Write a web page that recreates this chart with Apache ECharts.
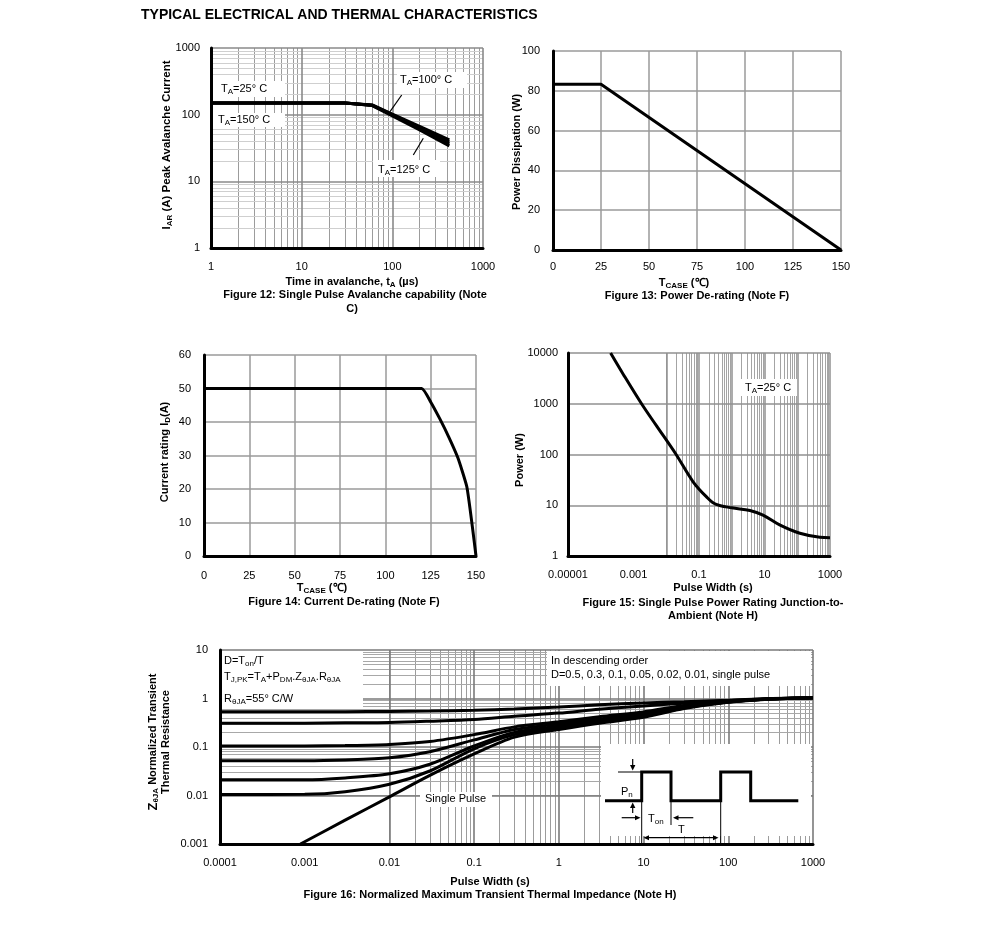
<!DOCTYPE html>
<html><head><meta charset="utf-8">
<script src="https://cdn.jsdelivr.net/npm/echarts@6/dist/echarts.min.js"></script>
<style>html,body{margin:0;padding:0;background:#fff}#c{width:991px;height:935px}</style>
</head><body><div id="c"></div>
<script>
// ---------------- DATA ----------------
// Figure 12: Single pulse avalanche capability
const f12Time = [1, 30, 60, 100, 200, 425];
const f12Ta25 = [150, 150, 140, 102, 67, 42];
const f12Ta100 = [150, 150, 139, 100, 64, 39];
const f12Ta125 = [150, 150, 138, 98, 62, 36.5];
const f12Ta150 = [150, 150, 137, 96, 59, 34];
const f12XTicks = ['1', '10', '100', '1000'];
const f12YTicks = ['1', '10', '100', '1000'];

// Figure 13: Power de-rating
const f13Tcase = [0, 25, 150];
const f13Power = [83.3, 83.3, 0];
const f13XTicks = ['0', '25', '50', '75', '100', '125', '150'];
const f13YTicks = ['0', '20', '40', '60', '80', '100'];

// Figure 14: Current de-rating
const f14Tcase = [0, 120, 125, 130, 135, 140, 145, 150];
const f14Current = [50, 50, 46, 41, 35.5, 29.3, 20.5, 0];
const f14XTicks = ['0', '25', '50', '75', '100', '125', '150'];
const f14YTicks = ['0', '10', '20', '30', '40', '50', '60'];

// Figure 15: Single pulse power rating
const f15Width = [0.0002, 0.0005, 0.00176, 0.005, 0.02, 0.066, 0.17, 0.32, 1, 3.6, 9, 29, 120, 490, 1000];
const f15Power = [10000, 3700, 1000, 370, 100, 29, 14.6, 10.5, 8.9, 7.9, 6.4, 4.1, 2.8, 2.34, 2.3];
const f15XTicks = ['0.00001', '0.001', '0.1', '10', '1000'];
const f15YTicks = ['1', '10', '100', '1000', '10000'];

// Figure 16: Normalized transient thermal impedance
const f16Width = [0.0001, 0.001, 0.003, 0.01, 0.03, 0.1, 0.3, 1, 3, 10, 30, 100, 300, 1000];
const f16D05 = [0.53, 0.53, 0.535, 0.54, 0.55, 0.57, 0.61, 0.67, 0.74, 0.81, 0.86, 0.92, 1.0, 1.04];
const f16D03 = [0.31, 0.31, 0.315, 0.32, 0.34, 0.37, 0.43, 0.5, 0.6, 0.7, 0.8, 0.9, 0.99, 1.04];
const f16D01 = [0.105, 0.105, 0.107, 0.113, 0.13, 0.18, 0.26, 0.33, 0.42, 0.53, 0.72, 0.87, 0.98, 1.04];
const f16D005 = [0.052, 0.052, 0.054, 0.06, 0.08, 0.14, 0.23, 0.3, 0.38, 0.49, 0.69, 0.86, 0.98, 1.04];
const f16D002 = [0.021, 0.021, 0.023, 0.028, 0.044, 0.105, 0.2, 0.27, 0.35, 0.45, 0.66, 0.85, 0.98, 1.04];
const f16D001 = [0.0105, 0.0106, 0.012, 0.017, 0.032, 0.092, 0.18, 0.25, 0.33, 0.43, 0.64, 0.85, 0.98, 1.04];
const f16SingleWidth = [0.00089, 0.003, 0.01, 0.03, 0.1, 0.3, 1, 3, 10, 30, 100, 300, 1000];
const f16Single = [0.001, 0.0031, 0.0094, 0.026, 0.072, 0.16, 0.23, 0.31, 0.41, 0.62, 0.84, 0.97, 1.04];
const f16XTicks = ['0.0001', '0.001', '0.01', '0.1', '1', '10', '100', '1000'];
const f16YTicks = ['0.001', '0.01', '0.1', '1', '10'];

// ---------------- HELPERS ----------------
const FF = '"Liberation Sans", Arial, Helvetica, sans-serif';
function logFmt(ticks) {
  return function (v) {
    for (const t of ticks) { const n = Number(t); if (Math.abs(v - n) <= n * 1e-6) return t; }
    return '';
  };
}
function linFmt(ticks) {
  return function (v) { const s = String(Math.round(v * 1000) / 1000); return ticks.indexOf(s) >= 0 ? s : ''; };
}
function lbl(fmt, margin) {
  return { formatter: fmt, color: '#000', fontSize: 11, fontFamily: FF, margin: margin };
}
function logAxis(gi, min, max, ticks, margin) {
  return {
    gridIndex: gi, type: 'log', logBase: 10, min: min, max: max, z: 20,
    axisLine: { show: true, onZero: false, lineStyle: { color: '#000', width: 3 } },
    axisTick: { show: false }, splitLine: { show: false }, minorSplitLine: { show: false },
    axisLabel: lbl(logFmt(ticks), margin)
  };
}
function linAxis(gi, min, max, interval, ticks, margin) {
  return {
    gridIndex: gi, type: 'value', min: min, max: max, interval: interval,
    axisLine: { show: true, onZero: false, lineStyle: { color: '#000', width: 3 } },
    axisTick: { show: false },
    splitLine: { show: true, showMinLine: false, lineStyle: { color: '#9a9a9a', width: 1.5 } },
    axisLabel: lbl(linFmt(ticks), margin)
  };
}
function decadeLines(a, b, withMinor) {
  const majors = [], minors = [];
  for (let k = a; k <= b; k++) {
    majors.push(Number(Math.pow(10, k).toPrecision(6)));
    if (withMinor && k < b) for (let m = 2; m <= 9; m++) minors.push(Number((m * Math.pow(10, k)).toPrecision(6)));
  }
  return { majors: majors, minors: minors };
}
function ls(c, w) { return { color: c, width: w, type: 'solid' }; }
function gridSeries(xi, yi, anchor, vert, horiz, st) {
  const data = [];
  vert.minors.forEach(v => data.push({ xAxis: v, lineStyle: st.vMinor }));
  horiz.minors.forEach(v => data.push({ yAxis: v, lineStyle: st.hMinor }));
  vert.majors.forEach(v => data.push({ xAxis: v, lineStyle: st.vMajor }));
  horiz.majors.forEach(v => data.push({ yAxis: v, lineStyle: st.hMajor }));
  return {
    type: 'line', xAxisIndex: xi, yAxisIndex: yi, z: 1, silent: true, symbol: 'none',
    data: [anchor], lineStyle: { opacity: 0 },
    markLine: { z: 1, silent: true, symbol: ['none', 'none'], label: { show: false },
      lineStyle: { type: 'solid' }, emphasis: { disabled: true }, animation: false, data: data }
  };
}
function curve(xi, yi, xs, ys, smooth) {
  return {
    type: 'line', xAxisIndex: xi, yAxisIndex: yi, z: 10, silent: true,
    symbol: 'none', showSymbol: false, smooth: smooth || false,
    lineStyle: { color: '#000', width: 3 },
    data: xs.map((x, i) => [x, ys[i]])
  };
}
const SUB = { fontSize: 8, fontFamily: FF, verticalAlign: 'bottom', lineHeight: 8 };
function txt(x, y, text, o) {
  o = o || {};
  const size = o.size || 11, weight = o.bold ? 'bold' : 'normal';
  return {
    type: 'text', x: x, y: y, z: 40, rotation: o.rot || 0, silent: true,
    style: {
      text: text, fill: '#000', fontSize: size, fontWeight: weight, fontFamily: FF,
      align: o.align || 'center', verticalAlign: 'middle', lineHeight: size + 3,
      rich: {
        s: Object.assign({}, SUB, { fontWeight: weight, fontSize: o.sub || 8 }),
        z: { fontSize: 13, fontWeight: 'bold', fontFamily: FF, lineHeight: size + 3 }
      }
    }
  };
}
function box(x, y, w, h) {
  return { type: 'rect', z: 5, silent: true, shape: { x: x, y: y, width: w, height: h }, style: { fill: '#fff' } };
}
function seg(pts, w) {
  return { type: 'polyline', z: 12, silent: true, shape: { points: pts }, style: { stroke: '#000', lineWidth: w, fill: null } };
}
function tri(pts) {
  return { type: 'polygon', z: 12, silent: true, shape: { points: pts }, style: { fill: '#000' } };
}

// ---------------- OPTION ----------------
const g12 = gridSeries(0, 0, [1, 1],
  decadeLines(0, 3, true), decadeLines(0, 3, true),
  { vMinor: ls('#9c9c9c', 1), hMinor: ls('#cfcfcf', 1), vMajor: ls('#8a8a8a', 1.6), hMajor: ls('#8a8a8a', 1.6) });
const g15 = gridSeries(3, 3, [0.00001, 1],
  decadeLines(-5, 3, true), decadeLines(0, 4, false),
  { vMinor: ls('#a4a4a4', 1), hMinor: ls('#a4a4a4', 1), vMajor: ls('#909090', 1.5), hMajor: ls('#909090', 1.5) });
const g16 = gridSeries(4, 4, [0.0001, 0.001],
  decadeLines(-4, 3, true), decadeLines(-3, 1, true),
  { vMinor: ls('#9c9c9c', 1), hMinor: ls('#a8a8a8', 1), vMajor: ls('#7a7a7a', 1.6), hMajor: ls('#7a7a7a', 1.6) });

const graphics = [
  txt(141, 15, 'TYPICAL ELECTRICAL AND THERMAL CHARACTERISTICS', { align: 'left', bold: true, size: 14 }),
  // Fig 12
  box(212, 81, 73, 16), box(212, 113, 73, 14), box(397, 72, 70, 16), box(373, 160, 67, 17),
  txt(221, 89, 'T{s|A}=25° C', { align: 'left' }),
  txt(218, 120, 'T{s|A}=150° C', { align: 'left' }),
  txt(400, 80, 'T{s|A}=100° C', { align: 'left' }),
  txt(378, 170, 'T{s|A}=125° C', { align: 'left' }),
  seg([[401.7, 95], [390, 111.7]], 1.2), seg([[423.3, 138.3], [413.3, 155]], 1.2),
  txt(167, 145, 'I{s|AR} (A) Peak Avalanche Current', { bold: true, rot: Math.PI / 2, size: 11.5 }),
  txt(352, 282, 'Time in avalanche, t{s|A} (µs)', { bold: true }),
  txt(355, 295, 'Figure 12: Single Pulse Avalanche capability (Note', { bold: true }),
  txt(352, 309, 'C)', { bold: true }),
  // Fig 13
  txt(517, 152, 'Power Dissipation (W)', { bold: true, rot: Math.PI / 2 }),
  txt(684, 283, 'T{s|CASE} (℃)', { bold: true }),
  txt(697, 296, 'Figure 13: Power De-rating (Note F)', { bold: true }),
  // Fig 14
  txt(165, 452, 'Current rating I{s|D}(A)', { bold: true, rot: Math.PI / 2 }),
  txt(322, 588, 'T{s|CASE} (℃)', { bold: true }),
  txt(344, 602, 'Figure 14: Current De-rating (Note F)', { bold: true }),
  // Fig 15
  box(741, 379, 56, 17),
  txt(745, 388, 'T{s|A}=25° C', { align: 'left' }),
  txt(520, 460, 'Power (W)', { bold: true, rot: Math.PI / 2 }),
  txt(713, 588, 'Pulse Width (s)', { bold: true }),
  txt(713, 603, 'Figure 15: Single Pulse Power Rating Junction-to-', { bold: true }),
  txt(713, 616, 'Ambient (Note H)', { bold: true }),
  // Fig 16
  box(221, 651, 142, 58), box(547, 651, 264, 35), box(601, 744, 210, 92), box(420, 792, 72, 15),
  txt(224, 661, 'D=T{s|on}/T', { align: 'left' }),
  txt(224, 677, 'T{s|J,PK}=T{s|A}+P{s|DM}.Z{s|θJA}.R{s|θJA}', { align: 'left' }),
  txt(224, 699, 'R{s|θJA}=55° C/W', { align: 'left' }),
  txt(551, 661, 'In descending order', { align: 'left' }),
  txt(551, 675, 'D=0.5, 0.3, 0.1, 0.05, 0.02, 0.01, single pulse', { align: 'left' }),
  txt(425, 799, 'Single Pulse', { align: 'left' }),
  txt(153, 742, '{z|Z}{s|θJA} Normalized Transient', { bold: true, rot: Math.PI / 2, size: 11 }),
  txt(166, 742, 'Thermal Resistance', { bold: true, rot: Math.PI / 2 }),
  txt(490, 882, 'Pulse Width (s)', { bold: true }),
  txt(490, 895, 'Figure 16: Normalized Maximum Transient Thermal Impedance (Note H)', { bold: true }),
  // inset pulse diagram
  seg([[605, 800.7], [641.7, 800.7], [641.7, 772], [671, 772], [671, 800.7], [720.7, 800.7], [720.7, 772], [750.7, 772], [750.7, 800.7], [798.3, 800.7]], 3),
  seg([[618, 772], [641, 772]], 1),
  seg([[632.7, 759], [632.7, 766]], 1.2), tri([[630, 765], [635.4, 765], [632.7, 770.5]]),
  seg([[632.7, 813], [632.7, 807]], 1.2), tri([[630, 808], [635.4, 808], [632.7, 802.5]]),
  seg([[641.7, 801], [641.7, 845]], 1), seg([[671, 801], [671, 825]], 1), seg([[720.7, 801], [720.7, 845]], 1),
  seg([[621.7, 817.7], [636, 817.7]], 1.2), tri([[635, 815.2], [635, 820.2], [640.5, 817.7]]),
  seg([[693.3, 817.7], [678, 817.7]], 1.2), tri([[678.5, 815.2], [678.5, 820.2], [673, 817.7]]),
  seg([[648, 837.7], [714, 837.7]], 1.2),
  tri([[649, 835.2], [649, 840.2], [643.5, 837.7]]), tri([[713, 835.2], [713, 840.2], [718.5, 837.7]]),
  txt(621, 792, 'P{s|n}', { align: 'left' }),
  txt(648, 819, 'T{s|on}', { align: 'left' }),
  txt(678, 830, 'T', { align: 'left' })
];

const option = {
  animation: false,
  backgroundColor: '#fff',
  grid: [
    { left: 211, top: 48, width: 272, height: 200 },
    { left: 553, top: 51, width: 288, height: 199 },
    { left: 204, top: 355, width: 272, height: 201 },
    { left: 568, top: 353, width: 262, height: 203 },
    { left: 220, top: 650, width: 593, height: 194 }
  ],
  xAxis: [
    logAxis(0, 1, 1000, f12XTicks, 13),
    linAxis(1, 0, 150, 25, f13XTicks, 11),
    linAxis(2, 0, 150, 25, f14XTicks, 14),
    logAxis(3, 0.00001, 1000, f15XTicks, 13),
    logAxis(4, 0.0001, 1000, f16XTicks, 13)
  ],
  yAxis: [
    logAxis(0, 1, 1000, f12YTicks, 11),
    linAxis(1, 0, 100, 20, f13YTicks, 13),
    linAxis(2, 0, 60, 10, f14YTicks, 13),
    logAxis(3, 1, 10000, f15YTicks, 10),
    logAxis(4, 0.001, 10, f16YTicks, 12)
  ],
  graphic: { elements: graphics },
  series: [
    g12, g15, g16,
    curve(0, 0, f12Time, f12Ta150), curve(0, 0, f12Time, f12Ta125),
    curve(0, 0, f12Time, f12Ta100), curve(0, 0, f12Time, f12Ta25),
    curve(1, 1, f13Tcase, f13Power),
    curve(2, 2, f14Tcase, f14Current, 0.15),
    curve(3, 3, f15Width, f15Power, 0.35),
    curve(4, 4, f16Width, f16D05, 0.3), curve(4, 4, f16Width, f16D03, 0.3),
    curve(4, 4, f16Width, f16D01, 0.3), curve(4, 4, f16Width, f16D005, 0.3),
    curve(4, 4, f16Width, f16D002, 0.3), curve(4, 4, f16Width, f16D001, 0.3),
    curve(4, 4, f16SingleWidth, f16Single, 0.3)
  ]
};
const chart = echarts.init(document.getElementById('c'), null, { renderer: 'canvas' });
chart.setOption(option);
</script>
</body></html>
